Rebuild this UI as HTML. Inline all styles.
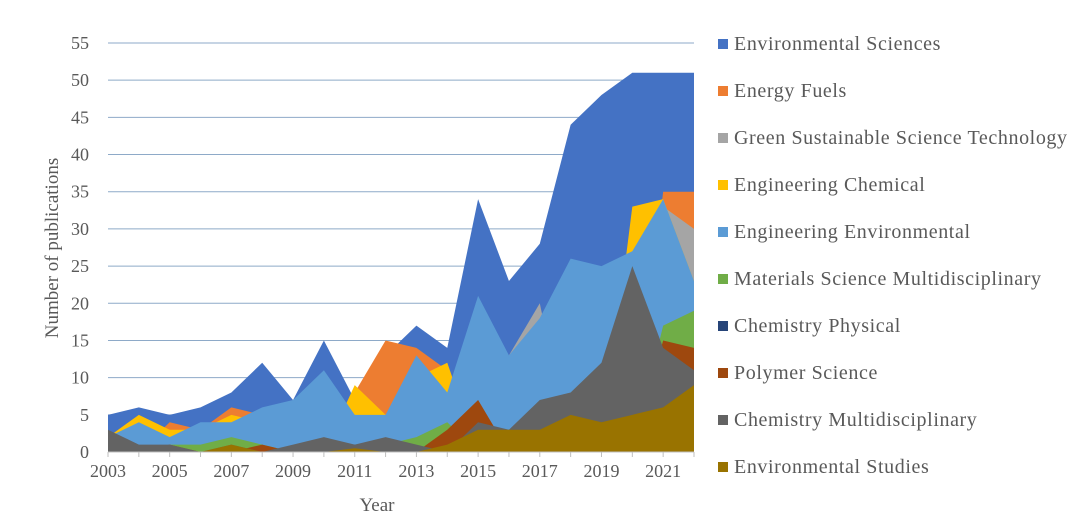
<!DOCTYPE html>
<html><head><meta charset="utf-8"><style>
body{margin:0;background:#fff;font-family:"Liberation Serif",serif;}
svg text{font-family:"Liberation Serif",serif;fill:#595959;}
</style></head><body>
<svg width="1080" height="520">
<g id="grid"></g><g id="areas"></g><g id="axes"></g><g id="legend"></g>
</svg>
<script>
const years=[2003,2004,2005,2006,2007,2008,2009,2010,2011,2012,2013,2014,2015,2016,2017,2018,2019,2020,2021,2022];
const seriesNames=["Environmental Sciences","Energy Fuels","Green Sustainable Science Technology","Engineering Chemical","Engineering Environmental","Materials Science Multidisciplinary","Chemistry Physical","Polymer Science","Chemistry Multidisciplinary","Environmental Studies"];
const colors=["#4472c4","#ed7d31","#a5a5a5","#ffc000","#5b9bd5","#70ad47","#264478","#9e480e","#636363","#997300"];
const envSci=[5,6,5,6,8,12,7,15,7,13,17,14,34,23,28,44,48,51,51,51];
const energy=[0,0,4,3,6,5,0,0,8,15,14,11,0,0,0,0,0,0,35,35];
const green=[0,0,0,0,0,0,0,0,0,0,0,0,0,13,20,0,0,0,33,30];
const engChem=[2,5,3,3,5,4,0,0,9,5,10,12,0,0,0,0,0,33,34,23];
const engEnv=[2,4,2,4,4,6,7,11,5,5,13,8,21,13,18,26,25,27,34,23];
const materials=[0,0,1,1,2,1,0,0,1,1,2,4,0,0,0,0,0,0,17,19];
const chemPhys=[0,0,0,0,0,0,0,0,1,1,0,0,0,0,0,0,0,0,0,0];
const polymer=[0,0,1,0,0,1,0,0,0,0,0,3,7,0,0,0,0,0,15,14];
const chemMulti=[3,1,1,0,1,0,1,2,1,2,1,0,4,3,7,8,12,25,14,11];
const envStudies=[0,0,0,0,1,0,0,0,0.5,0,0,1,3,3,3,5,4,5,6,9];
const values=[envSci,energy,green,engChem,engEnv,materials,chemPhys,polymer,chemMulti,envStudies];
const yTicks=[0,5,10,15,20,25,30,35,40,45,50,55];
const xLabels=[2003,2005,2007,2009,2011,2013,2015,2017,2019,2021];
const NS="http://www.w3.org/2000/svg";
const X0=108,X1=694,Y0=452,Y1=43;
const xs=y=>X0+(y-2003)*(X1-X0)/19;
const ys=v=>Y0-v*(Y0-Y1)/55;
function mk(t,a,p){const e=document.createElementNS(NS,t);for(const k in a)e.setAttribute(k,a[k]);p.appendChild(e);return e;}
const grid=document.getElementById('grid'),areas=document.getElementById('areas'),axes=document.getElementById('axes'),leg=document.getElementById('legend');
yTicks.forEach(v=>{
 if(v>0){const l=mk('line',{x1:X0,x2:X1,y1:ys(v),y2:ys(v),stroke:'#8eaac8','stroke-width':1},grid);
 
 }
 const t=mk('text',{x:89,y:ys(v)+6,'text-anchor':'end','font-size':18},axes);t.textContent=v;
 
 
});
values.forEach((s,i)=>{
 let d='M'+xs(years[0])+','+ys(0);
 s.forEach((v,j)=>d+=' L'+xs(years[j])+','+ys(v));
 d+=' L'+xs(years[years.length-1])+','+ys(0)+' Z';
 const p=mk('path',{d:d,fill:colors[i]},areas);
 
 
});
const ax=mk('line',{x1:X0,x2:X1,y1:Y0,y2:Y0,stroke:'#bfbfbf'},axes);


years.forEach(y=>{mk('line',{x1:xs(y),x2:xs(y),y1:Y0,y2:Y0+5,stroke:'#bfbfbf'},axes);});
xLabels.forEach(y=>{const t=mk('text',{x:xs(y),y:477,'text-anchor':'middle','font-size':18},axes);t.textContent=y;
 
 });
const xt=mk('text',{x:377,y:511,'text-anchor':'middle','font-size':19},axes);xt.textContent='Year';


const yt=mk('text',{x:0,y:0,'text-anchor':'middle','font-size':19,transform:'translate(58,248) rotate(-90)'},axes);yt.textContent='Number of publications';


seriesNames.forEach((n,i)=>{
 const g=mk('g',{},leg);
 
 
 const y=44+i*47;
 mk('rect',{x:718,y:y-5,width:10,height:10,fill:colors[i]},g);
 const t=mk('text',{x:734,y:y+6,'font-size':20,'letter-spacing':0.6},g);t.textContent=n;
});
</script>
</body></html>
